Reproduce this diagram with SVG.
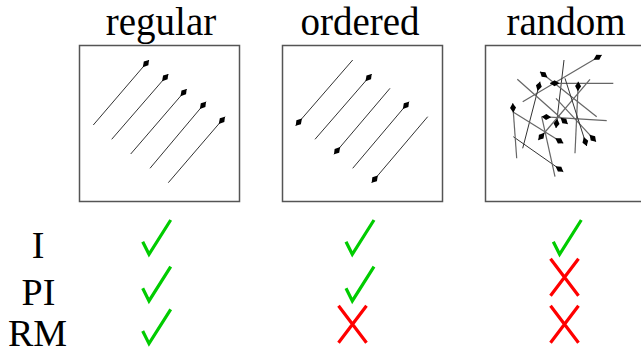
<svg xmlns="http://www.w3.org/2000/svg" width="641" height="347" viewBox="0 0 641 347">
  <style>
    .title { font-family: "Liberation Serif", "Times New Roman", serif; font-size: 39px; fill: #000; text-anchor: middle; }
    .row { font-family: "Liberation Serif", "Times New Roman", serif; font-size: 38px; fill: #000; text-anchor: middle; }
    .box { fill: #fff; stroke: #555; stroke-width: 1.5; }
    .vec { stroke: #333; stroke-width: 1; fill: none; marker-end: url(#head); }
    .vg { stroke: #666; stroke-width: 1.2; }
    .plain { marker-end: none; }
    .ok { fill: none; stroke: #00cc00; stroke-width: 3.2; stroke-linejoin: miter; }
    .no { fill: none; stroke: #ff0000; stroke-width: 3.2; }
  </style>
  <defs>
    <marker id="head" markerUnits="userSpaceOnUse" markerWidth="12" markerHeight="8" refX="0" refY="0" orient="auto" overflow="visible">
      <path d="M0,0 L-4.5,-3 L-9.5,0 L-4.5,3 Z" fill="#000"/>
    </marker>
    <path id="tick" d="M0,0 L6.3,12.6 L28,-21.7"/>
    <path id="cross" d="M-14,-18.5 L14,18.5 M14,-18.5 L-14,18.5"/>
  </defs>

  <!-- column headings -->
  <g id="titles">
    <text class="title" x="161" y="35">regular</text>
    <text class="title" x="360" y="35">ordered</text>
    <text class="title" x="566" y="35">random</text>
  </g>

  <!-- regular: parallel vectors, all pointing the same way -->
  <g id="regular">
    <rect class="box" x="79.5" y="45.5" width="160" height="156"/>
    <line class="vec" x1="93.3" y1="125" x2="149" y2="60"/>
    <line class="vec" x1="111.7" y1="139.3" x2="168.3" y2="74"/>
    <line class="vec" x1="130.7" y1="154" x2="186.7" y2="89"/>
    <line class="vec" x1="150" y1="168.3" x2="206" y2="101.7"/>
    <line class="vec" x1="168.3" y1="182.7" x2="225" y2="116.7"/>
  </g>

  <!-- ordered: parallel vectors with alternating sense -->
  <g id="ordered">
    <rect class="box" x="282.5" y="45.5" width="160" height="156"/>
    <line class="vec" x1="352.7" y1="60" x2="295.7" y2="125.7"/>
    <line class="vec" x1="315" y1="139.3" x2="371.7" y2="74"/>
    <line class="vec" x1="390" y1="88.3" x2="334" y2="154.3"/>
    <line class="vec" x1="352.7" y1="168.3" x2="409" y2="101.7"/>
    <line class="vec" x1="427.7" y1="116.7" x2="371.7" y2="182.7"/>
  </g>

  <!-- random: vectors in arbitrary directions -->
  <g id="random">
    <rect class="box" x="485.5" y="45.5" width="160" height="156"/>
    <line class="vec vg" x1="522.7" y1="101.7" x2="601.7" y2="55"/>
    <line class="vec" x1="564" y1="60" x2="556" y2="128"/>
    <line class="vec vg" x1="596.7" y1="116.7" x2="540" y2="71.7"/>
    <line class="vec" x1="522.7" y1="148.3" x2="540" y2="81.7"/>
    <line class="vec vg" x1="613.3" y1="83.3" x2="550" y2="83.3"/>
    <line class="vec vg" x1="575" y1="153.3" x2="578.3" y2="81.7"/>
    <line class="vec vg" x1="590" y1="79.3" x2="538.3" y2="140"/>
    <line class="vec vg" x1="606.7" y1="120.7" x2="541.7" y2="116.7"/>
    <line class="vec vg" x1="517.3" y1="79.3" x2="567.7" y2="124"/>
    <line class="vec vg" x1="512.7" y1="111.7" x2="563.3" y2="143.3"/>
    <line class="vec" x1="513.3" y1="136.7" x2="563.3" y2="171.7"/>
    <line class="vec vg" x1="516.7" y1="158.3" x2="512.7" y2="103.3"/>
    <line class="vec vg plain" x1="555" y1="176.7" x2="541.7" y2="116.7"/>
    <line class="vec vg" x1="556" y1="98.3" x2="596" y2="141.7"/>
    <line class="vec" x1="565" y1="78.3" x2="586.7" y2="146"/>
  </g>

  <!-- row labels -->
  <g id="labels">
    <text class="row" x="38" y="258.3">I</text>
    <text class="row" x="38.5" y="305">PI</text>
    <text class="row" x="37.5" y="346">RM</text>
  </g>

  <!-- yes / no marks -->
  <g id="marks">
    <use href="#tick" class="ok" x="142.7" y="241.7"/>
    <use href="#tick" class="ok" x="142.7" y="288.3"/>
    <use href="#tick" class="ok" x="142.7" y="331"/>
    <use href="#tick" class="ok" x="346" y="241.7"/>
    <use href="#tick" class="ok" x="346" y="288.3"/>
    <use href="#cross" class="no" x="352.5" y="324.3"/>
    <use href="#tick" class="ok" x="553.3" y="241.7"/>
    <use href="#cross" class="no" x="564.5" y="277.2"/>
    <use href="#cross" class="no" x="564.5" y="324.3"/>
  </g>
</svg>
